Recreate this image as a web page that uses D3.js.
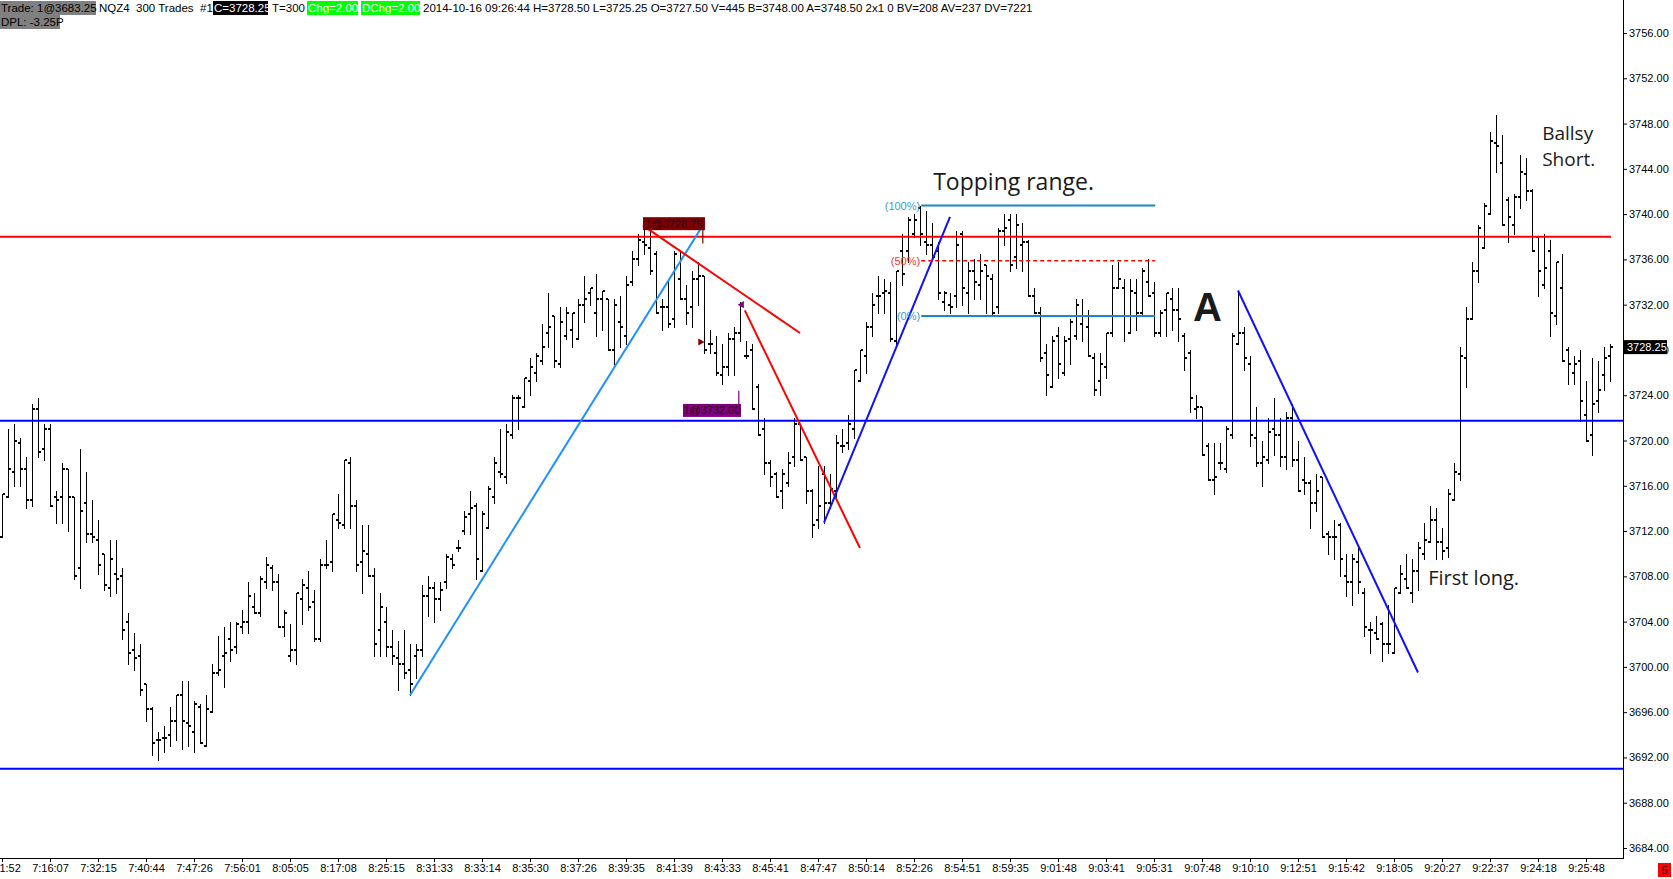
<!DOCTYPE html>
<html>
<head>
<meta charset="utf-8">
<script src="https://cdn.jsdelivr.net/npm/d3@7/dist/d3.min.js"></script>
<style>
  html, body { margin: 0; padding: 0; background: #fff; overflow: hidden; }
  svg { display: block; }
  text { font-family: "Liberation Sans", Arial, sans-serif; }
  .note { font-family: "Open Sans", sans-serif; fill: #1a1a1a; }
</style>
</head>
<body>
<svg id="chart" width="1673" height="879"></svg>
<script>
// NQZ4, 300-trade bars
const opens = [
  3711.5,3715,3717.25,3719.75,3717.5,3714.75,3722.75,3719.25,3721,3715,
  3715,3717.5,3715,3708.75,3714.5,3711.75,3711.25,3710,3707,3708.25,
  3708,3704,3701.5,3701,3698.5,3696.25,3693.5,3693.75,3694,3695.25,
  3697.5,3695,3694.25,3696.5,3693,3696,3699.5,3701,3702.5,3701.75,
  3703.5,3704,3705.25,3704.75,3707.5,3708.75,3707.5,3703.5,3701,3701.5,
  3706,3707,3705.75,3702.5,3709,3709.25,3713,3712.5,3718,3714.25,
  3709.25,3710,3708,3703.25,3704,3701.75,3700.75,3700.25,3699.75,3701,
  3701.5,3706.25,3707,3706,3707.5,3709.5,3710.5,3712,3713.5,3714.25,
  3708.5,3712.25,3715,3717.25,3716.75,3720.5,3723.75,3723,3725.25,3726,
  3727,3729.5,3731,3726.75,3729.25,3729.75,3729,3732,3733,3731.25,
  3732.5,3732.5,3728,3730.5,3729.25,3734,3736,3737.5,3737,3736.5,
  3731.75,3731.75,3730.75,3734.25,3732.5,3731.75,3734.25,3734.5,3728.5,3727.75,
  3725.75,3726.5,3729,3729.5,3727.5,3728,3724.75,3721,3718,3717,
  3715.5,3716.25,3718.5,3721.5,3718.5,3715.5,3713,3717,3714.5,3715.5,
  3719.5,3719.75,3721,3725.25,3727.5,3730,3732.75,3733,3733,3728.75,
  3736.75,3736.75,3738.25,3740.5,3737.5,3737.25,3736.75,3732.25,3732,3732.75,
  3738.25,3733,3735,3733.75,3735.5,3734.25,3731.75,3738.5,3739.5,3736.25,
  3737.25,3737.5,3732.75,3731.25,3727.75,3724.75,3729.25,3726,3729,3729.25,
  3730.25,3730,3727.25,3725.25,3726.5,3729.5,3733.5,3733.5,3729.5,3733,
  3731.25,3734,3733,3729.5,3731.5,3732.5,3731.5,3729.25,3727.75,3722.75,
  3723,3719.5,3716.5,3718,3717.5,3720.5,3728.5,3729.5,3726.75,3720.25,
  3718,3718.25,3721,3720.5,3718.5,3722,3718.25,3716.5,3716.25,3714.5,
  3716.75,3711.75,3711.5,3712.5,3708,3707.5,3709.25,3706.5,3703.25,3703,
  3703.75,3702,3701.25,3706.5,3707.75,3706.5,3708.5,3710,3711,3713,
  3711,3710.5,3714.75,3717,3727.25,3730.75,3735,3737,3740,3746.25,
  3744.5,3741.25,3739,3741.5,3743.5,3742,3738,3733.75,3736.75,3731,
  3733.5,3728,3726,3727,3722.25,3720.5,3723.5,3725.75,3727.5
];
const highs = [
  3715.25,3721,3721.5,3720.25,3718.5,3723.25,3723.75,3721.5,3721.5,3715.5,
  3718,3717.5,3715,3719.25,3717.25,3714.75,3713,3710,3711.25,3711.25,
  3708.75,3704.75,3703,3702,3698.5,3696.5,3694.25,3694.75,3696.5,3697.5,
  3698.75,3698.75,3697,3696.75,3697.5,3700.25,3702.75,3703.5,3704,3704,
  3705,3707.5,3706.5,3708,3709.75,3709,3708.25,3705,3703.75,3706.5,
  3707.75,3708.5,3706.75,3709.5,3711.25,3713.5,3715.25,3718.25,3718.5,3714.75,
  3712.5,3712.5,3708.75,3706.5,3705.25,3703.25,3702.25,3703.25,3702,3702,
  3707.25,3708,3707.5,3707.5,3710,3710,3711.25,3713.75,3715.5,3714.5,
  3713.75,3716,3718.5,3721,3721.5,3724,3724,3725.5,3727.25,3727.75,
  3730.25,3733,3731,3731.75,3731.75,3731.25,3732.5,3734.5,3733.5,3734.75,
  3733.25,3732.5,3732.5,3732.75,3734.5,3736.75,3738.25,3739,3738.5,3736.75,
  3732.5,3734,3736.75,3736.75,3733.75,3735,3735.75,3734.5,3729.75,3729.25,
  3728.5,3729.5,3730,3732.25,3728.75,3728.5,3725,3722,3718.25,3717.25,
  3717.5,3719,3722,3721.5,3718.5,3715.75,3717.75,3717.75,3717,3720.5,
  3721,3722.25,3726.25,3728,3730.5,3733,3734.5,3734.25,3734,3735,
  3738.25,3739.75,3740,3740.75,3740.25,3739.25,3737.5,3733.25,3733,3738.5,
  3738.5,3735.75,3736,3736.5,3735.5,3734.75,3738.75,3740,3740,3740,
  3739.25,3737.75,3733.5,3731.75,3728.5,3729.25,3730,3729.25,3730.75,3732.5,
  3732.5,3731.5,3727.75,3727.75,3729.5,3735.5,3735.75,3734.25,3734.25,3734.25,
  3735.25,3736,3734,3731.5,3733,3733.5,3733.5,3729.5,3728,3724,
  3723,3719.75,3719.75,3719.75,3721.25,3729.5,3733.25,3730,3727.5,3723,
  3720,3722,3723.75,3722,3722.5,3723.25,3720,3718.5,3716.5,3717,
  3716.75,3712,3713,3712.75,3710,3710,3710.5,3707,3704,3704.5,
  3704,3705.5,3707,3709,3710,3709.5,3711,3712.75,3714.25,3714,
  3712.25,3715.75,3718,3728.25,3731.75,3735.75,3739,3741,3747.25,3748.75,
  3747,3741.5,3741.75,3745.25,3745,3742.25,3738,3738.25,3737.75,3735.75,
  3736.5,3728.25,3727.5,3728,3725.25,3727.25,3727,3728.25,3728.5
];
const lows = [
  3711.5,3715,3716,3716,3714,3714.25,3718.5,3718.25,3714.25,3712.75,
  3712.75,3712,3707.75,3707,3711,3711,3708.25,3706.75,3706.25,3706.5,
  3702.5,3700.25,3699.75,3697.5,3695.25,3692.25,3691.75,3692.5,3693,3693.5,
  3692.75,3693,3692.5,3693.25,3693,3696,3699.25,3698.25,3700.5,3701.25,
  3703,3703,3704.75,3704.5,3707,3706.75,3703.5,3702.75,3700.5,3700.25,
  3703.75,3705,3702.25,3702.25,3708.75,3708.5,3712.25,3712.25,3712.25,3708.5,
  3706.5,3708,3701,3701,3701,3700.25,3698,3699,3697.5,3699,
  3701,3704.5,3704,3705,3707,3708.75,3710.25,3711.75,3711.75,3707.75,
  3708.5,3712.25,3714.5,3716.75,3716.25,3720.25,3721,3723,3724,3725.25,
  3726.75,3728.25,3726.5,3726.5,3729,3728.25,3729,3730.5,3732,3729.25,
  3729.75,3728,3726.75,3728.25,3728.5,3733.75,3735.5,3736.5,3734.75,3731.25,
  3729.75,3730,3730,3732.5,3730.25,3730,3732,3727.75,3727.75,3725.75,
  3725,3725.75,3725.75,3728.75,3727.25,3722.75,3720.5,3717,3716,3715,
  3714,3716,3717.75,3718.25,3714.5,3711.5,3712.25,3712.75,3714,3714.75,
  3719,3719.25,3720.25,3725.25,3726,3729.25,3731.25,3731.25,3728.75,3728.5,
  3733.75,3735.75,3738,3737.25,3736.5,3736,3732.5,3731.5,3731.25,3731.75,
  3732,3731.25,3732.5,3732.5,3731.25,3731,3731.25,3737.25,3735,3735.25,
  3735,3732.75,3731.25,3727,3724,3724.75,3725.5,3725.75,3726.75,3729,
  3728.75,3727.5,3724,3724,3725.5,3729.25,3733.5,3728.75,3729.5,3729.75,
  3731,3732.75,3729.25,3729.25,3729.25,3729.75,3728.75,3726.25,3722.5,3722,
  3718.75,3716.5,3715.25,3717.5,3717.25,3720.25,3728.5,3726.25,3719.5,3717.75,
  3716,3718,3718.75,3717.75,3717.5,3717.75,3715.5,3715.25,3712.25,3713.75,
  3711.5,3710,3709.5,3708,3706.25,3705.5,3706.5,3702.75,3701.25,3702.5,
  3700.5,3701.25,3701.25,3706.5,3707,3705.75,3706.75,3709.5,3711,3709.5,
  3709.5,3709.75,3714.75,3716.5,3724.75,3730.75,3734,3737,3740,3743.75,
  3739,3737.5,3738.25,3740.5,3741.25,3736.75,3732.75,3733.5,3729.25,3730.25,
  3727,3725,3725,3721.75,3720,3718.75,3722.5,3724.5,3725.25
];
const closes = [
  3715.25,3717.5,3720,3717.5,3714.75,3722.75,3719,3721,3714.25,3714.75,
  3717.5,3715,3708,3713.75,3711.75,3711.5,3709,3707.25,3709.5,3707.75,
  3703.25,3701.25,3700.75,3698,3696.25,3693.25,3693.5,3693.75,3695.25,3697.5,
  3695.25,3694.75,3696.75,3693.25,3696.25,3699.5,3699.75,3701.25,3701.5,3703.75,
  3704,3706.25,3704.75,3707.75,3709,3707.5,3703.5,3704.75,3701.5,3706.5,
  3707.25,3705.25,3702.5,3709,3709,3713.5,3712.75,3718.25,3714.25,3709,
  3710.25,3708,3702,3705.25,3701.75,3701,3700.25,3699.5,3698.5,3701.5,
  3706.25,3707,3706,3706.75,3709.75,3709,3710.5,3713.25,3714,3709.5,
  3713.5,3715.75,3718,3717,3720.75,3723.75,3723.75,3725.5,3726.5,3727.5,
  3728.25,3730,3727,3730.5,3731.25,3731.25,3732,3732.5,3733.5,3732.5,
  3733.25,3728,3732,3730,3733.75,3736,3737.75,3737.25,3735,3731.25,
  3731.75,3730.25,3736.5,3732.5,3731.25,3734.25,3734.5,3728,3728.5,3726,
  3726.5,3729,3729.5,3732,3727.5,3722.75,3720.5,3718,3716.75,3715,
  3717,3718,3721.5,3718.25,3715.5,3712.5,3714.25,3714.5,3715.75,3719.75,
  3719.5,3721.5,3726.25,3728,3730,3732,3732.75,3733.25,3729,3735,
  3734.75,3739.5,3739.5,3738.25,3737.25,3736.25,3733,3733,3731.75,3737.25,
  3733.5,3735,3734,3735,3734.5,3731.25,3738.5,3738.75,3735.5,3739,
  3737.5,3732.75,3731.25,3727.25,3725.75,3728.75,3726.75,3728.75,3730.5,3732,
  3731,3727.5,3724.5,3726.75,3729.5,3733.5,3734.25,3731,3733.25,3731.25,
  3735,3732.75,3729.5,3731.25,3733,3731.5,3730.75,3727.25,3723.75,3723,
  3718.75,3716.5,3716.75,3718,3721,3729.25,3729.5,3727.25,3720.5,3718,
  3718.5,3720.75,3720.5,3718.5,3722,3718.25,3715.5,3716.25,3714.5,3715.5,
  3711.5,3711.5,3711.5,3709.5,3707.5,3709.5,3707.5,3703.5,3703.25,3702.5,
  3702,3702,3707,3708.25,3707,3708.5,3710.5,3711.25,3713,3711,
  3710.25,3715.25,3717.25,3727.5,3730.75,3735,3738.75,3740.75,3746.5,3746,
  3739,3739.75,3741.5,3743.75,3742,3736.75,3735,3735.25,3731.25,3735.75,
  3727,3726.75,3726.75,3723.5,3720,3723.25,3724.5,3727.25,3728.25
];

const timeLabels = [
  "7:01:52","7:16:07","7:32:15","7:40:44","7:47:26","7:56:01","8:05:05","8:17:08",
  "8:25:15","8:31:33","8:33:14","8:35:30","8:37:26","8:39:35","8:41:39","8:43:33",
  "8:45:41","8:47:47","8:50:14","8:52:26","8:54:51","8:59:35","9:01:48","9:03:41",
  "9:05:31","9:07:48","9:10:10","9:12:51","9:15:42","9:18:05","9:20:27","9:22:37",
  "9:24:18","9:25:48"
];
const barsPerLabel = 8;
const priceTicks = d3.range(3684, 3757, 4);
const lastPrice = 3728.25;

const redLevels = [3738];
const blueLevels = [3721.75, 3691];

// trend lines as [bar, price] pairs
const lightBlueTrend = [[68, 3697.5], [116.5, 3738.75]];
const redTrends = [
  [[106.8, 3739.0], [133, 3729.5]],
  [[123.8, 3731.5], [143, 3710.5]]
];
const blueTrends = [
  [[137, 3712.75], [158, 3739.75]],
  [[206, 3733.25], [236, 3699.5]]
];

// the "Topping range" retracement
const fibBars = [153.2, 192.2];
const fibLevels = [
  { label: "(100%)", price: 3740.75 },
  { label: "(50%)", price: 3735.875 },
  { label: "(0%)", price: 3731.0 }
];

const svg = d3.select("#chart");
const axisX = 1623;
const axisY = 858;

const x = d3.scaleLinear().domain([0, opens.length - 1]).range([2, 1610]);
const y = d3.scaleLinear().domain([3684, 3756]).range([848, 33]);
const bx = (i) => Math.round(x(i));

function drawBars() {
  const idx = d3.range(opens.length);
  const g = svg.append("g").attr("fill", "#000");

  g.selectAll("line")
    .data(idx)
    .join("line")
    .attr("x1", (i) => bx(i) + 0.5)
    .attr("x2", (i) => bx(i) + 0.5)
    .attr("y1", (i) => Math.round(y(highs[i])))
    .attr("y2", (i) => Math.round(y(lows[i])) + 1)
    .attr("stroke", "#000")
    .attr("stroke-width", 1)
    .attr("shape-rendering", "crispEdges");

  g.selectAll("rect.open")
    .data(idx)
    .join("rect")
    .attr("class", "open")
    .attr("x", (i) => bx(i) - 2)
    .attr("y", (i) => Math.round(y(opens[i])) - 1)
    .attr("width", 2)
    .attr("height", 2);

  g.selectAll("rect.close")
    .data(idx)
    .join("rect")
    .attr("class", "close")
    .attr("x", (i) => bx(i) + 1)
    .attr("y", (i) => Math.round(y(closes[i])) - 1)
    .attr("width", 2)
    .attr("height", 2);
}

function drawLevels() {
  const g = svg.append("g");
  g.selectAll("line.red")
    .data(redLevels)
    .join("line")
    .attr("x1", 0)
    .attr("x2", x(opens.length - 1) + 1)
    .attr("y1", (d) => y(d))
    .attr("y2", (d) => y(d))
    .attr("stroke", "#ff0000")
    .attr("stroke-width", 2);

  g.selectAll("line.blue")
    .data(blueLevels)
    .join("line")
    .attr("x1", 0)
    .attr("x2", axisX)
    .attr("y1", (d) => y(d))
    .attr("y2", (d) => y(d))
    .attr("stroke", "#0000ff")
    .attr("stroke-width", 2);
}

function drawTrends() {
  const line = d3.line().x((d) => x(d[0])).y((d) => y(d[1]));
  const g = svg.append("g").attr("fill", "none").attr("stroke-width", 2);

  g.append("path").attr("d", line(lightBlueTrend)).attr("stroke", "#1e90ff");
  redTrends.forEach((t) => g.append("path").attr("d", line(t)).attr("stroke", "#ff0000"));
  blueTrends.forEach((t) => g.append("path").attr("d", line(t)).attr("stroke", "#1010ff"));
}

function drawFib() {
  const g = svg.append("g");
  g.selectAll("line")
    .data(fibLevels)
    .join("line")
    .attr("x1", x(fibBars[0]))
    .attr("x2", x(fibBars[1]))
    .attr("y1", (d) => y(d.price))
    .attr("y2", (d) => y(d.price))
    .attr("stroke", (d) => (d.label === "(50%)" ? "#ff0000" : "#1a88c8"))
    .attr("stroke-width", (d) => (d.label === "(50%)" ? 1.5 : 2))
    .attr("stroke-dasharray", (d) => (d.label === "(50%)" ? "4,3" : null));

  g.selectAll("text")
    .data(fibLevels)
    .join("text")
    .attr("x", x(fibBars[0]) - 1)
    .attr("y", (d) => y(d.price) + 4)
    .attr("text-anchor", "end")
    .attr("font-size", 11)
    .attr("fill", (d) => (d.label === "(50%)" ? "#ff3030" : "#3a9ad9"))
    .text((d) => d.label);
}

function drawMarkers() {
  // entry / exit tags left by the platform
  const tags = [
    { label: "1@3728.75", bar: 106.83, price: 3739.2, w: 62, fill: "#800000", stemTo: 3737.4, stemBar: 116.8 },
    { label: "1@3732.00", bar: 113.5, price: 3722.7, w: 58, fill: "#800080", stemTo: 3724.4, stemBar: 122.8 }
  ];
  tags.forEach((t) => {
    const top = y(t.price) - 6;
    svg.append("line")
      .attr("x1", x(t.stemBar)).attr("x2", x(t.stemBar))
      .attr("y1", y(t.price)).attr("y2", y(t.stemTo))
      .attr("stroke", t.fill).attr("stroke-width", 1.2);
    svg.append("rect")
      .attr("x", x(t.bar)).attr("y", top)
      .attr("width", t.w).attr("height", 13)
      .attr("fill", t.fill);
    svg.append("text")
      .attr("x", x(t.bar) + t.w / 2).attr("y", top + 10.5)
      .attr("text-anchor", "middle")
      .attr("font-size", 11)
      .attr("fill", "#2b0010")
      .text(t.label);
  });

  const tri = d3.symbol().type(d3.symbolTriangle).size(22);
  svg.append("path")
    .attr("d", tri())
    .attr("transform", `translate(${x(116.4)},${y(3728.7)}) rotate(90)`)
    .attr("fill", "#800000");
  svg.append("path")
    .attr("d", tri())
    .attr("transform", `translate(${x(123.3)},${y(3732.0)}) rotate(-90)`)
    .attr("fill", "#800080");
}

function drawNotes() {
  const notes = [
    { text: "Topping range.", bar: 155.2, price: 3742.1, size: 23, weight: 400 },
    { text: "A", bar: 198.5, price: 3730.6, size: 40, weight: 700, family: "Liberation Sans" },
    { text: "First long.", bar: 237.7, price: 3707.2, size: 20, weight: 400 },
    { text: "Ballsy", bar: 256.7, price: 3746.55, size: 19, weight: 400 },
    { text: "Short.", bar: 256.7, price: 3744.25, size: 19, weight: 400 }
  ];
  svg.append("g")
    .selectAll("text")
    .data(notes)
    .join("text")
    .attr("class", "note")
    .attr("x", (d) => x(d.bar))
    .attr("y", (d) => y(d.price))
    .attr("font-size", (d) => d.size)
    .attr("font-weight", (d) => d.weight)
    .style("font-family", (d) => d.family || null)
    .text((d) => d.text);
}

function drawAxes() {
  const yAxis = d3.axisRight(y)
    .tickValues(priceTicks)
    .tickFormat(d3.format(".2f"))
    .tickSize(4)
    .tickPadding(2);
  const gy = svg.append("g").attr("transform", `translate(${axisX},0)`).call(yAxis);
  gy.select(".domain").remove();
  gy.selectAll("text").attr("font-size", 11).attr("font-family", "Liberation Sans").attr("fill", "#000");

  const xAxis = d3.axisBottom(x)
    .tickValues(d3.range(0, opens.length, barsPerLabel))
    .tickFormat((d) => timeLabels[d / barsPerLabel])
    .tickSize(4)
    .tickPadding(2);
  const gx = svg.append("g").attr("transform", `translate(0,${axisY})`).call(xAxis);
  gx.select(".domain").remove();
  gx.selectAll("text").attr("font-size", 11).attr("font-family", "Liberation Sans").attr("fill", "#000");

  svg.append("line")
    .attr("x1", axisX + 0.5).attr("x2", axisX + 0.5)
    .attr("y1", 0).attr("y2", axisY + 1)
    .attr("stroke", "#000");
  svg.append("line")
    .attr("x1", 0).attr("x2", axisX + 1)
    .attr("y1", axisY + 0.5).attr("y2", axisY + 0.5)
    .attr("stroke", "#000");

  // last price tag
  const py = y(lastPrice);
  svg.append("rect").attr("x", axisX).attr("y", py - 7).attr("width", 44).attr("height", 14).attr("fill", "#000");
  svg.append("text")
    .attr("x", axisX + 4).attr("y", py + 4)
    .attr("font-size", 11).attr("fill", "#fff")
    .text(d3.format(".2f")(lastPrice));

  // little red box in the corner
  svg.append("rect").attr("x", 1658).attr("y", 863).attr("width", 13).attr("height", 14).attr("fill", "#ff0000");
  svg.append("text").attr("x", 1664.5).attr("y", 874).attr("text-anchor", "middle")
    .attr("font-size", 11).attr("fill", "#400000").text("5");
}

function drawHeader() {
  const items = [
    { text: "Trade: 1@3683.25", x: 0, w: 96, row: 0, bg: "#808080", fg: "#000" },
    { text: "NQZ4  300 Trades  #1", x: 99, row: 0, fg: "#000" },
    { text: "C=3728.25", x: 213, w: 55, row: 0, bg: "#000", fg: "#fff" },
    { text: "T=300", x: 272, row: 0, fg: "#000" },
    { text: "Chg=2.00", x: 307, w: 51, row: 0, bg: "#00ff00", fg: "#fff" },
    { text: "DChg=2.00", x: 361, w: 59, row: 0, bg: "#00ff00", fg: "#fff" },
    { text: "2014-10-16 09:26:44 H=3728.50 L=3725.25 O=3727.50 V=445 B=3748.00 A=3748.50 2x1 0 BV=208 AV=237 DV=7221", x: 423, row: 0, fg: "#000" },
    { text: "DPL: -3.25P", x: 0, w: 60, row: 1, bg: "#808080", fg: "#000" }
  ];
  const g = svg.append("g");
  items.forEach((d) => {
    const top = 1 + d.row * 14;
    if (d.bg) {
      g.append("rect").attr("x", d.x).attr("y", top).attr("width", d.w).attr("height", 14).attr("fill", d.bg);
    }
    g.append("text")
      .attr("x", d.x + (d.bg ? 1 : 0))
      .attr("y", top + 11)
      .attr("font-size", 11.5)
      .attr("fill", d.fg)
      .style("white-space", "pre")
      .text(d.text);
  });
}

drawBars();
drawLevels();
drawTrends();
drawFib();
drawMarkers();
drawNotes();
drawAxes();
drawHeader();
</script>
</body>
</html>
